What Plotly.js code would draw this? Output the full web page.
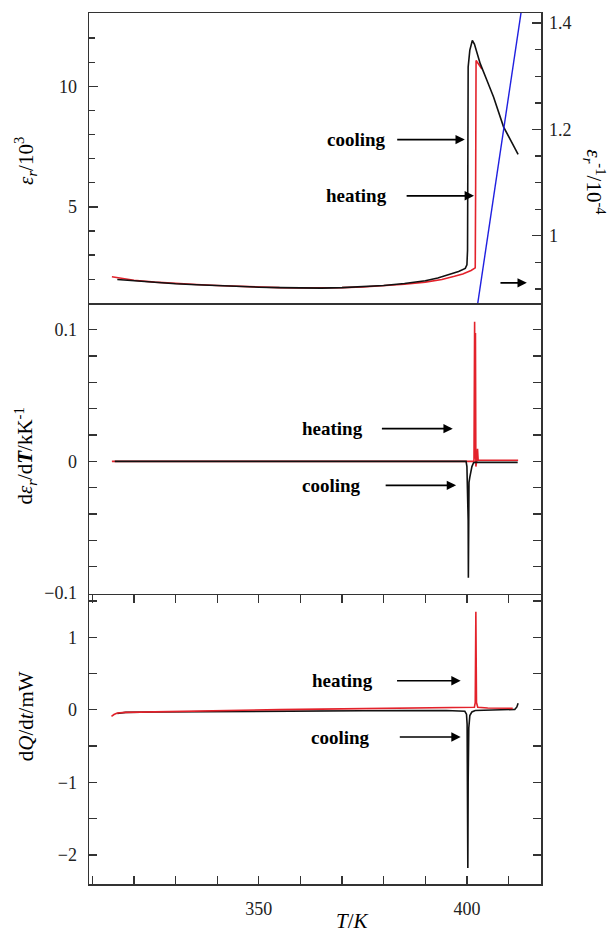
<!DOCTYPE html>
<html>
<head>
<meta charset="utf-8">
<script src="https://cdn.plot.ly/plotly-3.0.1.min.js"></script>
<style>html,body{margin:0;padding:0;background:#fff;}#chart{width:610px;height:933px;}</style>
</head>
<body>
<div id="chart"></div>
<script>
// ---- Top panel: permittivity (left axis) ----
var coolT_eps = [316, 320, 325, 330, 335, 340, 345, 350, 355, 360, 365, 370, 375, 380, 385, 390, 393, 396, 398, 399.6, 400.0, 400.15, 400.3, 400.7, 401.3, 401.8, 402.5, 403.2, 404.8, 406.4, 408.8, 410.5, 412.3];
var coolEps   = [1.99, 1.93, 1.86, 1.81, 1.77, 1.73, 1.70, 1.67, 1.65, 1.63, 1.63, 1.65, 1.69, 1.74, 1.82, 1.94, 2.05, 2.20, 2.32, 2.45, 2.60, 3.20, 10.8, 11.5, 11.9, 11.75, 11.35, 10.94, 10.25, 9.56, 8.32, 7.75, 7.18];
var heatT_eps = [314.7, 318, 320, 325, 330, 335, 340, 345, 350, 355, 360, 365, 370, 375, 380, 385, 390, 394, 397, 399, 401, 402.0, 402.1, 402.2, 402.5, 403.0, 403.6];
var heatEps   = [2.10, 2.01, 1.96, 1.88, 1.82, 1.78, 1.74, 1.70, 1.67, 1.65, 1.64, 1.64, 1.65, 1.68, 1.73, 1.79, 1.88, 1.99, 2.12, 2.22, 2.36, 2.47, 6.0, 11.07, 11.0, 10.85, 10.72];
// ---- Top panel: inverse permittivity (right axis) ----
var invT   = [401.5, 405, 409, 414];
var invEps = [0.815, 0.999, 1.209, 1.472];
// ---- Middle panel: d eps / dT ----
var coolT_d = [315.4, 340, 370, 399.8, 400.0, 400.1, 400.2, 400.3, 400.35, 400.4, 400.5, 400.7, 400.9, 401.2, 401.6, 402, 406, 412.2];
var coolD   = [0, 0, 0, 0, -0.004, -0.013, -0.03, -0.045, -0.0885, -0.04, -0.016, -0.012, -0.008, -0.004, -0.001, -0.0008, -0.0008, -0.0008];
var heatT_d = [314.7, 330, 360, 390, 401.7, 401.85, 401.95, 402.05, 402.15, 402.4, 402.55, 402.7, 405, 412.3];
var heatD   = [0, 0, 0, 0, 0, 0.106, 0.002, 0.0975, -0.004, 0.001, 0.0096, 0.0008, 0.0008, 0.0008];
// ---- Bottom panel: dQ/dt ----
var coolT_q = [316, 318, 325, 335, 345, 355, 365, 375, 385, 395, 399.5, 399.9, 400.05, 400.15, 400.22, 400.3, 400.45, 400.7, 401.2, 402, 410, 411.5, 412.0, 412.3];
var coolQ   = [-0.05, -0.035, -0.03, -0.025, -0.02, -0.018, -0.015, -0.013, -0.012, -0.01, -0.02, -0.06, -0.2, -1.2, -2.18, -1.0, -0.25, -0.08, -0.03, -0.01, -0.005, 0.005, 0.04, 0.09];
var heatT_q = [314.6, 315.2, 316, 318, 325, 335, 345, 355, 365, 375, 385, 395, 401.8, 402.0, 402.15, 402.3, 402.6, 405, 411];
var heatQ   = [-0.09, -0.065, -0.045, -0.035, -0.028, -0.015, -0.005, 0.003, 0.009, 0.014, 0.02, 0.027, 0.035, 0.1, 1.35, 0.1, 0.035, 0.025, 0.02];

// ---- Tick positions and labels ----
var qTickVals = [-2, -1.5, -1, -0.5, 0, 0.5, 1, 1.5];
var qTickText = ['\u22122', '', '\u22121', '', '0', '', '1', ''];
var dTickVals = [-0.1, -0.08, -0.06, -0.04, -0.02, 0, 0.02, 0.04, 0.06, 0.08, 0.1];
var dTickText = ['\u22120.1', '', '', '', '', '0', '', '', '', '', '0.1'];

var RED = '#e3222b', BLK = '#111111', BLUE = '#1f1fe0';
var FONT = 'Liberation Serif';
var AX = '#333333';

var traces = [
  {x: heatT_eps, y: heatEps, xaxis: 'x3', yaxis: 'y3', mode: 'lines', line: {color: RED, width: 1.6}},
  {x: coolT_eps, y: coolEps, xaxis: 'x3', yaxis: 'y3', mode: 'lines', line: {color: BLK, width: 1.6}},
  {x: invT, y: invEps, xaxis: 'x3', yaxis: 'y4', mode: 'lines', line: {color: BLUE, width: 1.4}},
  {x: heatT_d, y: heatD, xaxis: 'x2', yaxis: 'y2', mode: 'lines', line: {color: RED, width: 1.6}},
  {x: coolT_d, y: coolD, xaxis: 'x2', yaxis: 'y2', mode: 'lines', line: {color: BLK, width: 1.6}},
  {x: coolT_q, y: coolQ, xaxis: 'x', yaxis: 'y', mode: 'lines', line: {color: BLK, width: 1.6}},
  {x: heatT_q, y: heatQ, xaxis: 'x', yaxis: 'y', mode: 'lines', line: {color: RED, width: 1.6}}
];

var tickFont = {family: FONT, size: 18, color: '#222'};
function yax(extra) {
  var base = {showgrid: false, zeroline: false, showline: true, linecolor: AX, linewidth: 1.5,
    ticks: 'inside', ticklen: 8, tickwidth: 1.3, tickcolor: AX, tickfont: tickFont,
    ticklabelstandoff: 7};
  for (var k in extra) base[k] = extra[k];
  return base;
}
function minorT(d, len) {
  return {dtick: d, tick0: 0, ticks: 'inside', ticklen: len, tickwidth: 1.3, tickcolor: AX, showgrid: false};
}
var XR = [309.2, 417.8];

var ann = [];
var labFont = {family: FONT, size: 19, color: '#000', weight: 'bold'};
// label with arrow: text centred at (tx, y), arrow tip at (tipX, y)
function lab(tx, tipX, y, xr, yr, s, pad) {
  ann.push({x: tipX, y: y, ax: tx, ay: y, xref: xr, yref: yr, axref: xr, ayref: yr,
    text: s, font: labFont, showarrow: true, arrowhead: 2, arrowsize: 1.1, arrowwidth: 1.7,
    arrowcolor: '#000', standoff: 0, borderpad: pad});
}
// top panel
lab(373.4, 399.5, 7.79, 'x3', 'y3', '<b>cooling</b>', 11);
lab(373.5, 401.7, 5.46, 'x3', 'y3', '<b>heating</b>', 19);
ann.push({x: 414.4, y: 1.85, ax: 407.7, ay: 1.85, xref: 'x3', yref: 'y3', axref: 'x3', ayref: 'y3',
  text: '', showarrow: true, arrowhead: 2, arrowsize: 1.1, arrowwidth: 1.7, arrowcolor: '#000', standoff: 0});
// middle panel
lab(367.8, 396.6, 0.0248, 'x2', 'y2', '<b>heating</b>', 18);
lab(367.5, 397.4, -0.0182, 'x2', 'y2', '<b>cooling</b>', 24);
// bottom panel
lab(370.0, 398.5, 0.40, 'x', 'y', '<b>heating</b>', 24);
lab(369.7, 398.5, -0.375, 'x', 'y', '<b>cooling</b>', 29);

// axis titles
var titleFont = {family: FONT, size: 21, color: '#000'};
function ttl(xpx, ypx, s, ang) {
  ann.push({xref: 'paper', yref: 'paper', x: (xpx - 88.5) / 452.5, y: (884.5 - ypx) / 872,
    text: s, showarrow: false, textangle: ang, font: titleFont, xanchor: 'center', yanchor: 'middle'});
}
ttl(25, 161, '<i>ε</i><sub><i>r</i></sub>/10<sup>3</sup>', -90);
ttl(25, 456, 'd<i>ε</i><sub><i>r</i></sub>/d<b><i>T</i></b>/kK<sup>-1</sup>', -90);
ttl(25, 717, 'd<i>Q</i>/d<i>t</i>/mW', -90);
ttl(595, 182, '<i>ε</i><sub><i>r</i></sub><sup>-1</sup>/10<sup>-4</sup>', 90);
ttl(352, 922, '<i>T</i>/<i>K</i>', 0);

var layout = {
  width: 610, height: 933,
  margin: {l: 88.5, r: 69, t: 12.5, b: 48.5},
  paper_bgcolor: '#fff', plot_bgcolor: '#fff',
  showlegend: false,
  font: {family: FONT},
  xaxis: {domain: [0, 1], anchor: 'y', range: XR, showgrid: false, zeroline: false,
    showline: true, linecolor: AX, linewidth: 1.5, mirror: false,
    ticks: 'inside', ticklen: 8, tickwidth: 1.3, tickcolor: AX, tick0: 0, dtick: 50,
    minor: {dtick: 10, tick0: 0, ticks: 'inside', ticklen: 8, tickwidth: 1.3, tickcolor: AX, showgrid: false},
    tickfont: tickFont, ticklabelstandoff: 8},
  xaxis2: {domain: [0, 1], anchor: 'y2', matches: 'x', range: XR, showgrid: false, zeroline: false,
    showline: true, linecolor: AX, linewidth: 1.5, mirror: false,
    ticks: 'outside', ticklen: 8, tickwidth: 1.3, tickcolor: AX, tick0: 0, dtick: 10, showticklabels: false},
  xaxis3: {domain: [0, 1], anchor: 'y3', matches: 'x', range: XR, showgrid: false, zeroline: false,
    showline: true, linecolor: AX, linewidth: 1.5, mirror: true, ticks: '', showticklabels: false},
  yaxis: yax({domain: [0, 1/3], anchor: 'x', range: [-2.4, 1.6], tickmode: 'array',
    tickvals: qTickVals, ticktext: qTickText, mirror: 'ticks'}),
  yaxis2: yax({domain: [1/3, 2/3], anchor: 'x2', range: [-0.1005, 0.12], tickmode: 'array',
    tickvals: dTickVals, ticktext: dTickText, mirror: 'ticks'}),
  yaxis3: yax({domain: [2/3, 1], anchor: 'x3', range: [1.0, 13.04], tick0: 0, dtick: 5, mirror: true,
    ticklen: 9, minor: minorT(1, 6)}),
  yaxis4: yax({overlaying: 'y3', side: 'right', anchor: 'x3', range: [0.873, 1.419], tick0: 0, dtick: 0.2,
    ticklen: 9, ticklabelstandoff: 3, minor: minorT(0.05, 6)}),
  annotations: ann
};

Plotly.newPlot('chart', traces, layout, {displayModeBar: false, staticPlot: true});
</script>
</body>
</html>
